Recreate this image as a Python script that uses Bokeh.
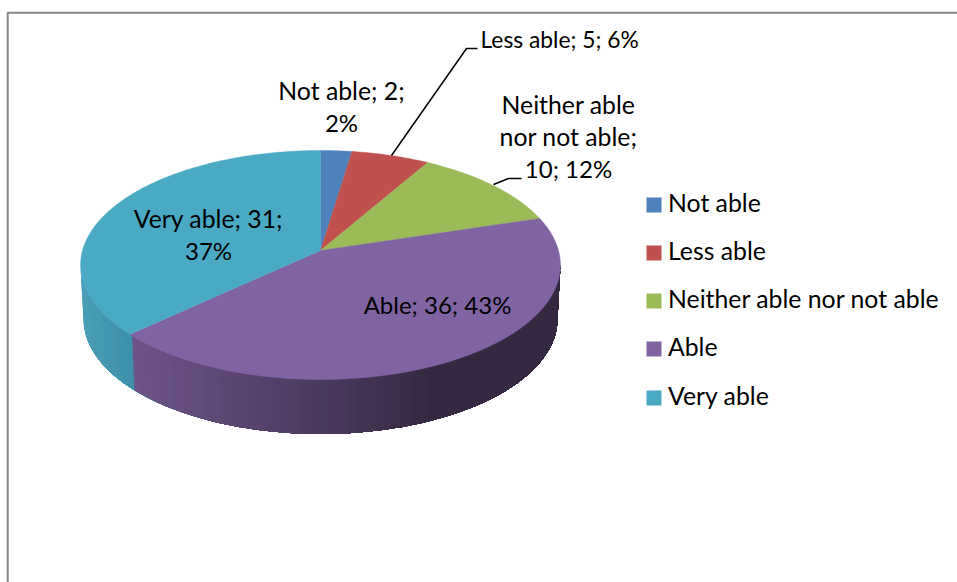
import math
from bokeh.plotting import figure
from bokeh.models import Range1d
from bokeh.core.properties import value
from bokeh.embed import file_html
from bokeh.resources import INLINE

# ---- data ----
categories = ["Not able", "Less able", "Neither able nor not able", "Able", "Very able"]
counts = [2, 5, 10, 36, 31]
colors = ["#4f81bd", "#c0504d", "#9bbb59", "#8064a2", "#4aaac4"]
percent_labels = ["2%", "6%", "12%", "43%", "37%"]

FONT = value("Lato")
FS = "24.8px"
FS_NUM = "24px"
W, H = 957, 582

p = figure(width=W, height=H, output_backend="svg", toolbar_location=None,
           x_range=Range1d(0, W), y_range=Range1d(H, 0),
           min_border=0, outline_line_color=None, background_fill_color="white")
p.xaxis.visible = False
p.yaxis.visible = False
p.grid.visible = False

# chart frame, cropped by the page on two sides
p.line([7.2, 7.2, 970], [600, 12.2, 12.2], line_color="#868686", line_width=2)

# ---- 3D pie geometry (perspective disc) ----
CX, APEX_Y = 320.0, 250.0
R, K, A = 238.0, 112.7, 0.1266


def project(angle):
    sx, cy = math.sin(angle), math.cos(angle)
    s = 1 / (1 + A * cy)
    return CX + R * sx * s, APEX_Y - K * cy * s


total = sum(counts)
edges = [0.0]
for c in counts:
    edges.append(edges[-1] + 2 * math.pi * c / total)


# ---- side wall ----
def lerp(c0, c1, t):
    t = max(0.0, min(1.0, t))
    return "#%02x%02x%02x" % tuple(round(a + (b - a) * t) for a, b in zip(c0, c1))


TOP = (240, 114.5, 264.5)
BOT = (237, 115.0, 318.5)


def ell(f, e):
    return CX + e[0] * math.cos(f), e[2] + e[1] * math.sin(f)


wall_split_x = project(edges[4])[0]
wx, wy, wc = [], [], []
N = 80
for i in range(N):
    f0 = math.pi * (1 - i / N)
    # each band runs to the far right end, the next one paints over it: no seams
    steps = [math.pi * (1 - j / N) for j in range(i, N + 1)]
    pts = [ell(f, TOP) for f in steps] + [ell(f, BOT) for f in reversed(steps)]
    mid = ell(f0, TOP)[0]
    if mid < wall_split_x:
        col = lerp((0x4a, 0x9e, 0xb6), (0x3d, 0x8f, 0xa8), (mid - 80) / 50)
    else:
        col = lerp((0x6d, 0x54, 0x89), (0x35, 0x29, 0x41), (mid - wall_split_x) / 300)
    wx.append([q[0] for q in pts])
    wy.append([q[1] for q in pts])
    wc.append(col)
p.patches(wx, wy, fill_color=wc, line_color=None)

# ---- top face ----
for i, col in enumerate(colors):
    a0, a1 = edges[i], edges[i + 1]
    n = max(4, int((a1 - a0) * 90))
    pts = [project(a0 + (a1 - a0) * j / n) for j in range(n + 1)]
    xs = [CX] + [q[0] for q in pts]
    ys = [APEX_Y] + [q[1] for q in pts]
    p.patch(xs, ys, fill_color=col, line_color=col, line_width=0.4)

# ---- leader lines ----
p.line([391, 466, 477], [155, 48, 48], line_color="black", line_width=1.5)
p.line([493, 508, 521], [184, 178, 178], line_color="black", line_width=1.5)


# ---- data labels ----
def txt(x, y, s, align="center", size=FS):
    p.text([x], [y], text=[s], text_font=FONT, text_font_size=size, text_color="black",
           text_align=align, text_baseline="middle")


lab = [f"{categories[i]}; {counts[i]}; {percent_labels[i]}" for i in range(5)]
txt(341, 90, f"{categories[0]}; {counts[0]};")
txt(341, 122, percent_labels[0], size=FS_NUM)
txt(480, 38, lab[1], "left", size="22.8px")
txt(568, 104, "Neither able")
txt(568, 136, "nor not able;")
txt(568, 168, f"{counts[2]}; {percent_labels[2]}", size=FS_NUM)
txt(437, 304, lab[3], size=FS_NUM)
txt(208, 218, f"{categories[4]}; {counts[4]};")
txt(208, 250, percent_labels[4], size=FS_NUM)

# ---- legend ----
legend_y = [204.5, 252.5, 300.5, 348.5, 397.5]
for name, col, y in zip(categories, colors, legend_y):
    p.quad(left=[646], right=[661], top=[y - 7.5], bottom=[y + 7.5],
           fill_color=col, line_color=None)
    txt(667.5, y - 2.5, name, "left")

open("out.html", "w").write(file_html(p, INLINE))
